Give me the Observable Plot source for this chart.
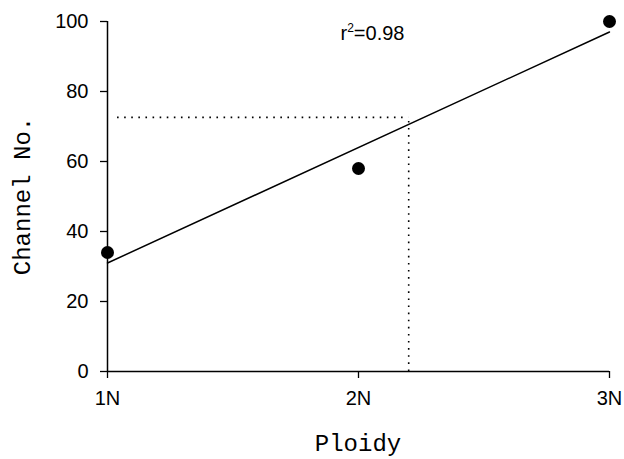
<!DOCTYPE html>
<html>
<head>
<meta charset="utf-8">
<script src="https://cdn.jsdelivr.net/npm/d3@7"></script>
<script src="https://cdn.jsdelivr.net/npm/@observablehq/plot@0.6"></script>
<style>
  html, body { margin: 0; padding: 0; background: #fff; }
  #chart svg { display: block; }
</style>
</head>
<body>
<div id="chart"></div>
<script>
// Data
const ploidy = [1, 2, 3];
const channel = [34, 58, 100];
const xTickLabels = ["1N", "2N", "3N"];
const yTicks = [0, 20, 40, 60, 80, 100];
const fitX = [1, 3];
const fitY = [31, 97];
const refX = 2.2;
const refY = 72.6;
const r2Label = "r2=0.98";

const points = ploidy.map((p, i) => ({x: p, y: channel[i]}));
const fit = fitX.map((p, i) => ({x: p, y: fitY[i]}));

const sans = "Liberation Sans, Arial, sans-serif";
const mono = "Liberation Mono, Courier New, monospace";

const chart = Plot.plot({
  width: 624,
  height: 459,
  marginLeft: 107,
  marginRight: 15,
  marginTop: 21,
  marginBottom: 88,
  style: {background: "#fff", color: "#000", fontFamily: sans, fontSize: "20px"},
  x: {domain: [1, 3], ticks: ploidy, tickFormat: d => xTickLabels[ploidy.indexOf(d)]},
  y: {domain: [0, 100], ticks: yTicks},
  marks: [
    Plot.axisX({ticks: ploidy, tickFormat: d => xTickLabels[ploidy.indexOf(d)], tickSize: 7, tickPadding: 12, fontSize: 20, label: null, stroke: "#000", strokeWidth: 1.3, className: "xax"}),
    Plot.axisY({ticks: yTicks, tickSize: 7, tickPadding: 12, fontSize: 20, label: null, stroke: "#000", strokeWidth: 1.3, className: "yax"}),
    Plot.ruleX([1], {y1: 0, y2: 100, stroke: "#000", strokeWidth: 1.5}),
    Plot.ruleY([0], {x1: 1, x2: 3, stroke: "#000", strokeWidth: 1.5}),
    Plot.ruleY([refY], {x1: 1.04, x2: refX, stroke: "#000", strokeWidth: 1.6, strokeDasharray: "1.6,5.5"}),
    Plot.ruleX([refX], {y1: 0, y2: refY, stroke: "#000", strokeWidth: 1.6, strokeDasharray: "1.6,5.5"}),
    Plot.line(fit, {x: "x", y: "y", stroke: "#000", strokeWidth: 1.5}),
    Plot.dot(points, {x: "x", y: "y", r: 6.5, fill: "#000", stroke: "none"}),
    Plot.text([r2Label], {frameAnchor: "top-left", dx: 233, dy: 4, fontSize: 20, fill: "#000", textAnchor: "start", lineAnchor: "top", fontFamily: sans, className: "r2label"})
  ]
});

const svg = d3.select(chart);

// Force tick label size
const tickStrings = new Set([...xTickLabels, ...yTicks.map(String)]);
svg.selectAll("text").filter(function() { return tickStrings.has(this.textContent); })
  .style("font-size", "20px").attr("font-size", 20);

// Superscript for r²
svg.selectAll(".r2label text").each(function() {
  const t = d3.select(this);
  const s = t.text();
  t.text(null);
  t.append("tspan").text(s.slice(0, 1));
  t.append("tspan").attr("font-size", 12).attr("dy", "-8").text(s.slice(1, 2));
  t.append("tspan").attr("dy", "8").text(s.slice(2));
});

// Axis titles (monospace, as in the reference)
svg.append("text")
  .attr("x", 358).attr("y", 451)
  .attr("text-anchor", "middle")
  .attr("font-family", mono)
  .attr("font-size", 24)
  .attr("fill", "#000")
  .text("Ploidy");
svg.append("text")
  .attr("transform", "translate(30,196) rotate(-90)")
  .attr("text-anchor", "middle")
  .attr("font-family", mono)
  .attr("font-size", 24)
  .attr("fill", "#000")
  .text("Channel No.");

document.getElementById("chart").appendChild(chart);
</script>
</body>
</html>
